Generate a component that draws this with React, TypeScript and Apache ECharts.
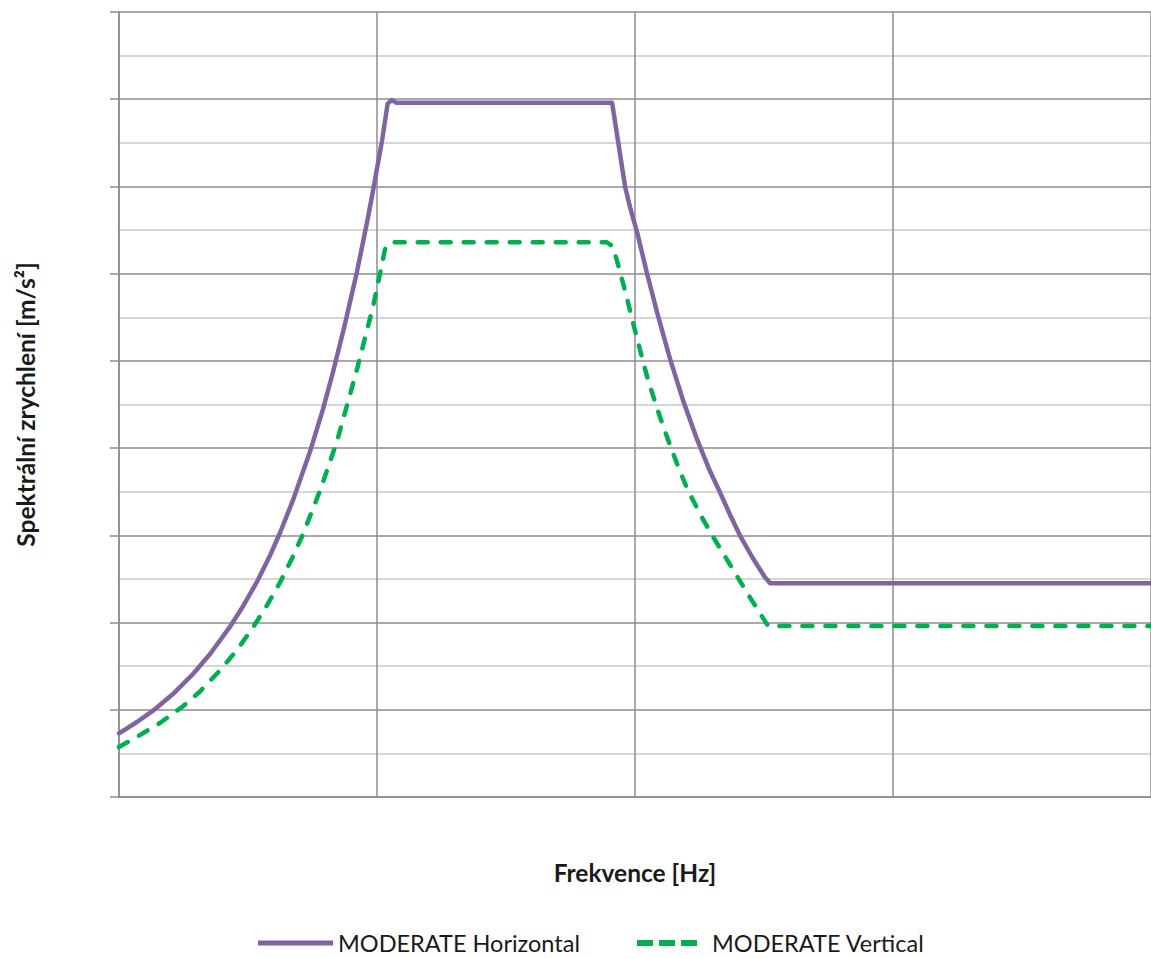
import React, { useEffect, useRef } from "react";
import * as echarts from "echarts";

// Frequency [Hz] / spectral acceleration [m/s²]
const horizontalFreq = [0.1, 0.1174, 0.1355, 0.1618, 0.1936, 0.2254, 0.269, 0.303, 0.343, 0.385, 0.421, 0.472, 0.55, 0.618, 0.675, 0.751, 0.836, 0.915, 0.965, 1.045, 1.1, 1.14, 1.19, 8.15, 9.15, 9.57, 10.18, 11.14, 12.27, 13.68, 15.35, 17.4, 19.5, 21.3, 23.4, 25.5, 28.6, 31.9, 33.4, 1000];
const horizontalAcc = [0.73, 0.86, 0.99, 1.18, 1.41, 1.64, 1.95, 2.19, 2.47, 2.77, 3.03, 3.4, 3.96, 4.45, 4.87, 5.42, 6.02, 6.59, 6.95, 7.52, 7.95, 7.99, 7.96, 7.96, 7.0, 6.76, 6.48, 6.0, 5.52, 5.02, 4.55, 4.1, 3.74, 3.5, 3.23, 3.0, 2.74, 2.52, 2.45, 2.45];

const verticalFreq = [0.1, 0.1205, 0.144, 0.177, 0.206, 0.246, 0.2864, 0.33, 0.375, 0.421, 0.469, 0.516, 0.601, 0.7, 0.836, 0.898, 0.965, 1.027, 1.074, 1.122, 7.78, 8.22, 8.75, 9.31, 9.82, 10.45, 11.14, 12.16, 13.3, 14.55, 15.9, 17.9, 20.1, 23.4, 27.2, 32.8, 1000];
const verticalAcc = [0.573, 0.71, 0.848, 1.04, 1.21, 1.45, 1.685, 1.94, 2.2, 2.46, 2.74, 3.01, 3.51, 4.08, 4.9, 5.26, 5.62, 6.0, 6.28, 6.36, 6.36, 6.31, 6.02, 5.72, 5.44, 5.13, 4.82, 4.46, 4.13, 3.82, 3.54, 3.24, 2.98, 2.66, 2.34, 1.96, 1.96];

const seriesNames = ["MODERATE Horizontal", "MODERATE Vertical"];
const xTitle = "Frekvence [Hz]";
const yTitle = "Spektrální zrychlení [m/s²]";

const pairs = (xs: number[], ys: number[]) => xs.map((x, i) => [x, ys[i]]);

const PURPLE = "#8064A2";
const GREEN = "#00B050";

export default function App() {
  const ref = useRef<HTMLDivElement>(null);
  useEffect(() => {
    if (!ref.current) return;
    const chart = echarts.init(ref.current, undefined, { renderer: "svg" });
    const font = "Lato, 'Open Sans', sans-serif";
    const legendText = { fontSize: 23.5, color: "#1a1a1a", fontFamily: font };
    chart.setOption({
      animation: false,
      backgroundColor: "#ffffff",
      textStyle: { fontFamily: font },
      grid: { left: 119, right: 0, top: 12, bottom: 161, containLabel: false },
      xAxis: {
        type: "log",
        logBase: 10,
        min: 0.1,
        max: 1000,
        name: xTitle,
        nameLocation: "middle",
        nameGap: 63,
        nameTextStyle: { fontSize: 24.5, fontWeight: "bold", color: "#1a1a1a", fontFamily: font },
        axisLine: { show: true, lineStyle: { color: "#8c8c8c", width: 1.5 } },
        axisTick: { show: false },
        axisLabel: { show: false },
        splitLine: { show: true, lineStyle: { color: "#8c8c8c", width: 1.5 } },
        minorSplitLine: { show: false },
      },
      yAxis: {
        type: "value",
        min: 0,
        max: 9,
        interval: 1,
        name: yTitle,
        nameLocation: "middle",
        nameGap: 81,
        nameTextStyle: { fontSize: 24.5, fontWeight: "bold", color: "#1a1a1a", fontFamily: font },
        axisLine: { show: true, lineStyle: { color: "#8c8c8c", width: 1.5 } },
        axisTick: { show: true, length: 9, inside: false, lineStyle: { color: "#8c8c8c", width: 1.5 } },
        axisLabel: { show: false },
        splitLine: { show: true, lineStyle: { color: "#8c8c8c", width: 1.5 } },
        minorTick: { show: false, splitNumber: 2 },
        minorSplitLine: { show: true, lineStyle: { color: "#c8c8c8", width: 1.5 } },
      },
      legend: [
        {
          top: 931,
          left: 258,
          padding: 0,
          itemWidth: 75,
          itemHeight: 5,
          itemGap: 0,
          textStyle: legendText,
          data: [{ name: seriesNames[0], icon: "path://M0,0h75v5h-75z" }],
        },
        {
          top: 931,
          left: 637,
          padding: 0,
          itemWidth: 60,
          itemHeight: 6,
          itemGap: 0,
          textStyle: { ...legendText, padding: [0, 0, 0, 10] },
          data: [{ name: seriesNames[1], icon: "path://M0,0h16v6h-16z M22,0h16v6h-16z M44,0h16v6h-16z" }],
        },
      ],
      series: [
        {
          name: seriesNames[0],
          type: "line",
          data: pairs(horizontalFreq, horizontalAcc),
          symbol: "none",
          lineStyle: { color: PURPLE, width: 4.5, cap: "round", join: "round" },
          itemStyle: { color: PURPLE },
        },
        {
          name: seriesNames[1],
          type: "line",
          data: pairs(verticalFreq, verticalAcc),
          symbol: "none",
          lineStyle: { color: GREEN, width: 4.5, type: [10, 13], cap: "round", join: "round" },
          itemStyle: { color: GREEN },
        },
      ],
    });
    return () => chart.dispose();
  }, []);
  return (
    <div
      ref={ref}
      style={{ position: "fixed", left: 0, top: 0, width: 1151, height: 958, background: "#fff" }}
    />
  );
}
